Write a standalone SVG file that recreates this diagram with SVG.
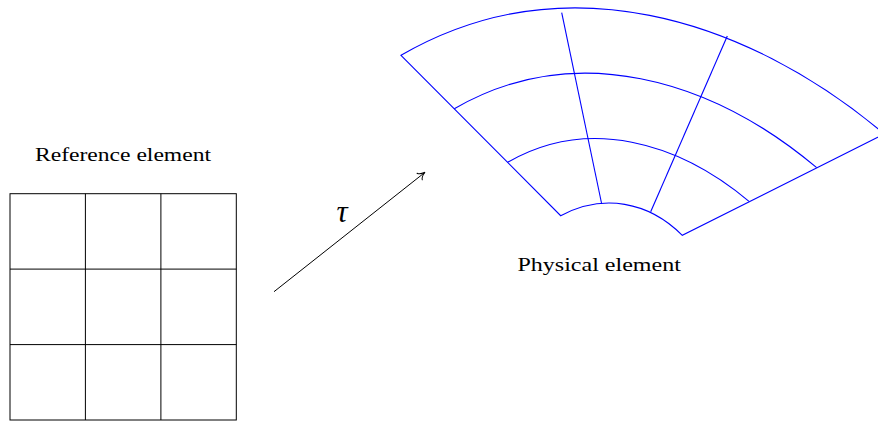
<svg xmlns="http://www.w3.org/2000/svg" width="878" height="422" viewBox="0 0 878 422">
  <style>
    .grid { fill: none; stroke: #000; stroke-width: 1; }
    .phys { fill: none; stroke: #0000ff; stroke-width: 1.1; stroke-linejoin: miter; }
    .label { font-family: "Liberation Serif", "Times New Roman", serif; font-size: 19.5px; fill: #000; }
    .math { font-family: "Liberation Serif", "Times New Roman", serif; font-style: italic; font-size: 31px; fill: #000; }
    .conn { fill: none; stroke: #000; stroke-width: 1; }
  </style>
  <defs>
    <marker id="tip" markerUnits="userSpaceOnUse" orient="auto" markerWidth="12" markerHeight="12" refX="0" refY="0" viewBox="-9 -6 10 12" overflow="visible">
      <path d="M -6.8,-4.2 C -6,-2 -2.5,-0.6 0,0 C -2.5,0.6 -6,2 -6.8,4.2" fill="none" stroke="#000" stroke-width="1" stroke-linecap="round"/>
    </marker>
  </defs>
  <rect x="0" y="0" width="878" height="422" fill="#fff"/>

  <g id="reference-element">
    <rect class="grid" x="10" y="193.7" width="226.3" height="226.3"/>
    <line class="grid" x1="85.4" y1="193.7" x2="85.4" y2="420"/>
    <line class="grid" x1="160.9" y1="193.7" x2="160.9" y2="420"/>
    <line class="grid" x1="10" y1="269.1" x2="236.3" y2="269.1"/>
    <line class="grid" x1="10" y1="344.6" x2="236.3" y2="344.6"/>
    <text class="label" x="123" y="161" text-anchor="middle" textLength="176" lengthAdjust="spacingAndGlyphs">Reference element</text>
  </g>

  <g id="physical-element">
    <path class="phys" d="M 884.4,134 L 682.3,235.3 C 648.4,201.4 603.1,193.2 560.7,215.7 L 401,55.3 C 561.2,-37.2 742.6,15.1 884.4,134"/>
    <path class="phys" d="M 454.3,108.7 C 574.5,39.3 710.4,78.45 816.7,167.7"/>
    <path class="phys" d="M 507.7,162.3 C 587.7,116.1 678.2,141.9 749,201.3"/>
    <line class="phys" x1="561.7" y1="12.7" x2="601.7" y2="204"/>
    <line class="phys" x1="727.3" y1="36" x2="650.7" y2="211.7"/>
    <text class="label" x="599.2" y="270.5" text-anchor="middle" textLength="163.5" lengthAdjust="spacingAndGlyphs">Physical element</text>
  </g>

  <g id="connectors">
    <line class="conn" x1="274" y1="291.7" x2="425" y2="172.3" marker-end="url(#tip)"/>
    <text class="math" x="342" y="221.5" text-anchor="middle">τ</text>
  </g>
</svg>
